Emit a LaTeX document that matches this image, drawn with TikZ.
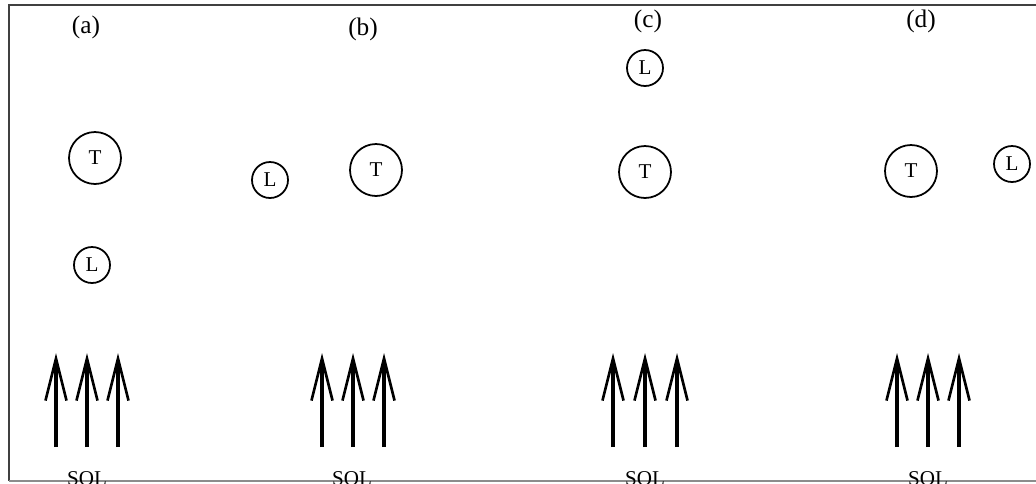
\documentclass[tikz,border=0pt]{standalone}
\usepackage{fontspec}
\setmainfont{Liberation Serif}
\usetikzlibrary{arrows.meta}
\begin{document}
\begin{tikzpicture}[x=0.02cm, y=-0.02cm,
  >={Straight Barb[length=24pt, width=12pt, line width=1.5pt]},
  big/.style={draw, circle, line width=1pt, minimum size=1.04cm, inner sep=0pt, font=\large},
  small/.style={draw, circle, line width=1pt, minimum size=0.72cm, inner sep=0pt, font=\large},
  ray/.style={->, line width=2pt}]
  \useasboundingbox (0,0) rectangle (1036,484);
  \draw[line width=1.3pt, black!75] (1040,5) -- (9,5) -- (9,481);
  \draw[line width=0.6pt, black!45] (9,481) -- (1040,481);
  % case labels
  \node[font=\Large] (la) at (86,27)  {(a)};
  \node[font=\Large] (lb) at (363,29) {(b)};
  \node[font=\Large] (lc) at (648,21) {(c)};
  \node[font=\Large] (ld) at (921,21) {(d)};
  % bodies
  \node[big]   (Ta) at (95,158)   {T};
  \node[small] (La) at (92,265)   {L};
  \node[small] (Lb) at (270,180)  {L};
  \node[big]   (Tb) at (376,170)  {T};
  \node[small] (Lc) at (645,68)   {L};
  \node[big]   (Tc) at (645,172)  {T};
  \node[big]   (Td) at (911,171)  {T};
  \node[small] (Ld) at (1012,164) {L};
  % sunlight
  \node[font=\large] (Sa) at (87,479)  {SOL};
  \node[font=\large] (Sb) at (352,479) {SOL};
  \node[font=\large] (Sc) at (645,479) {SOL};
  \node[font=\large] (Sd) at (928,479) {SOL};
  \coordinate (a1) at (56,447);  \coordinate (a1t) at (56,353);
  \coordinate (a2) at (87,447);  \coordinate (a2t) at (87,353);
  \coordinate (a3) at (118,447); \coordinate (a3t) at (118,353);
  \coordinate (b1) at (322,447); \coordinate (b1t) at (322,353);
  \coordinate (b2) at (353,447); \coordinate (b2t) at (353,353);
  \coordinate (b3) at (384,447); \coordinate (b3t) at (384,353);
  \coordinate (c1) at (613,447); \coordinate (c1t) at (613,353);
  \coordinate (c2) at (645,447); \coordinate (c2t) at (645,353);
  \coordinate (c3) at (677,447); \coordinate (c3t) at (677,353);
  \coordinate (d1) at (897,447); \coordinate (d1t) at (897,353);
  \coordinate (d2) at (928,447); \coordinate (d2t) at (928,353);
  \coordinate (d3) at (959,447); \coordinate (d3t) at (959,353);
  \draw[ray] (a1) -- (a1t);
  \draw[ray] (a2) -- (a2t);
  \draw[ray] (a3) -- (a3t);
  \draw[ray] (b1) -- (b1t);
  \draw[ray] (b2) -- (b2t);
  \draw[ray] (b3) -- (b3t);
  \draw[ray] (c1) -- (c1t);
  \draw[ray] (c2) -- (c2t);
  \draw[ray] (c3) -- (c3t);
  \draw[ray] (d1) -- (d1t);
  \draw[ray] (d2) -- (d2t);
  \draw[ray] (d3) -- (d3t);
\end{tikzpicture}
\end{document}
